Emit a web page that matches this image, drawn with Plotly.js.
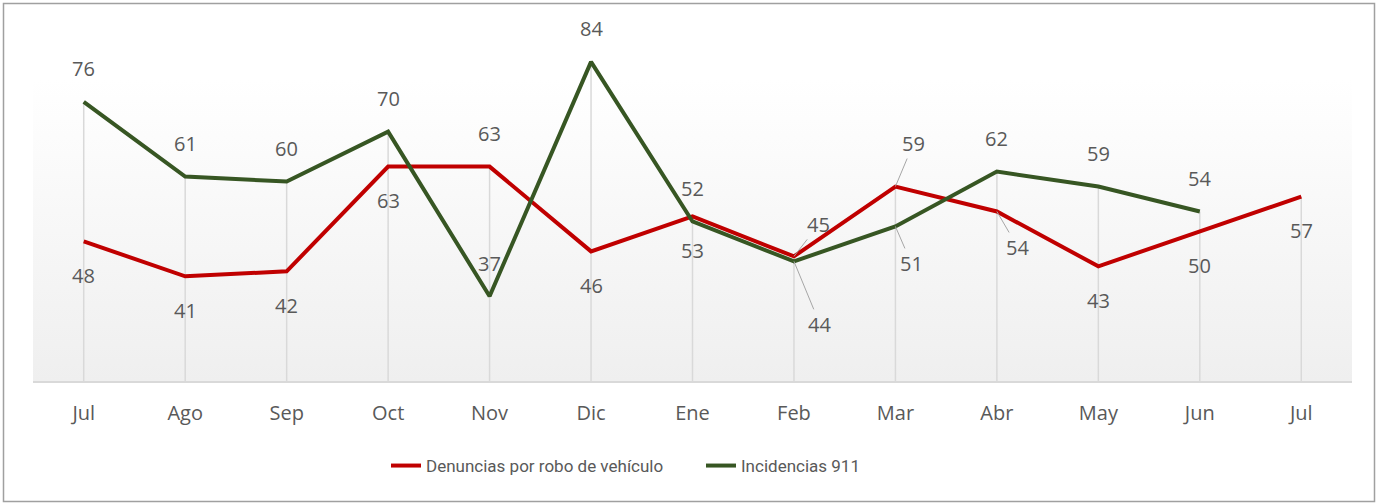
<!DOCTYPE html>
<html>
<head>
<meta charset="utf-8">
<script src="https://cdn.plot.ly/plotly-3.0.1.min.js"></script>
<style>html,body{margin:0;padding:0;background:#fff;}#chart{width:1378px;height:504px;}</style>
</head>
<body>
<div id="chart"></div>
<script>
// ---- data ----
const months = ["Jul","Ago","Sep","Oct","Nov","Dic","Ene","Feb","Mar","Abr","May","Jun","Jul"];
const denuncias = [48, 41, 42, 63, 63, 46, 53, 45, 59, 54, 43, 50, 57];
const incidencias = [76, 61, 60, 70, 37, 84, 52, 44, 51, 62, 59, 54, null];
const seriesNames = ["Denuncias por robo de vehículo", "Incidencias 911"];

// ---- style ----
const RED = "#c00000", GREEN = "#375623", TXT = "#595959";
const yMin = 20, yMax = 90;
const idx = months.map((m, i) => i);

// label placement: default offsets (px) per series; some points use leader lines
const redDefault = months.map(() => ({dy: 34}));      // below
const greenDefault = months.map(() => ({dy: -33}));   // above
redDefault[4] = {dy: -33};
const redLeader = {7: {ax: 25, ay: -32}, 8: {ax: 18, ay: -43}, 9: {ax: 21, ay: 36}};
const greenLeader = {7: {ax: 26, ay: 63}, 8: {ax: 16, ay: 37}};

// drop lines from highest point to axis
const dropX = [], dropY = [];
idx.forEach(i => {
  const vals = [denuncias[i], incidencias[i]].filter(v => v !== null);
  dropX.push(i, i, null);
  dropY.push(Math.max(...vals), yMin, null);
});

const gradTop = 80.4; // top of shaded plot region
const traces = [
  {x: [-0.5, 12.5, 12.5, -0.5, -0.5], y: [gradTop, gradTop, yMin, yMin, gradTop],
   mode: "lines", fill: "toself", line: {width: 0, color: "rgba(0,0,0,0)"},
   fillgradient: {type: "vertical", colorscale: [[0, "#efefef"], [1, "#ffffff"]]},
   hoverinfo: "skip", showlegend: false},
  {x: dropX, y: dropY, mode: "lines", line: {color: "#d9d9d9", width: 1.5},
   hoverinfo: "skip", showlegend: false},
  {x: idx, y: denuncias, name: seriesNames[0], mode: "lines",
   line: {color: RED, width: 4}, hoverinfo: "skip"},
  {x: idx, y: incidencias, name: seriesNames[1], mode: "lines",
   line: {color: GREEN, width: 4}, hoverinfo: "skip"}
];

const annFont = {family: "Open Sans, sans-serif", size: 20, color: TXT};
const annotations = [];
function addLabels(vals, defaults, leaders) {
  vals.forEach((v, i) => {
    if (v === null) return;
    if (leaders[i]) {
      annotations.push({x: i, y: v, text: String(v), showarrow: true, arrowhead: 0,
        arrowwidth: 1, arrowcolor: "#a6a6a6", ax: leaders[i].ax, ay: leaders[i].ay,
        standoff: 0, font: annFont});
    } else {
      annotations.push({x: i, y: v, text: String(v), showarrow: false,
        yshift: -defaults[i].dy, font: annFont});
    }
  });
}
addLabels(denuncias, redDefault, redLeader);
addLabels(incidencias, greenDefault, greenLeader);

const W = 1378, H = 504, mL = 33, mR = 26, mT = 32, mB = 123;
const pw = W - mL - mR, ph = H - mT - mB;
const px2x = p => (p - mL) / pw, px2y = p => (H - mB - p) / ph;

const layout = {
  width: W, height: H,
  margin: {l: mL, r: mR, t: mT, b: mB, pad: 0},
  paper_bgcolor: "#ffffff", plot_bgcolor: "rgba(0,0,0,0)",
  xaxis: {range: [-0.5, 12.5], tickvals: idx, ticktext: months, showgrid: false,
    zeroline: false, showline: true, linecolor: "#d9d9d9", linewidth: 1.5,
    ticks: "", ticklabelstandoff: 13,
    tickfont: {family: "Open Sans, sans-serif", size: 20, color: TXT}},
  yaxis: {range: [yMin, yMax], visible: false, showgrid: false, zeroline: false},
  showlegend: true,
  legend: {orientation: "h", x: px2x(386), xanchor: "left", y: px2y(466), yanchor: "middle",
    font: {family: "Roboto, sans-serif", size: 17, color: TXT},
    bgcolor: "rgba(0,0,0,0)", itemwidth: 30, entrywidth: 270, entrywidthmode: "pixels"},
  annotations: annotations,
  shapes: [{type: "rect", xref: "paper", yref: "paper",
    x0: px2x(3.5), x1: px2x(1374.5), y0: px2y(501.5), y1: px2y(3.5),
    line: {color: "#a0a0a0", width: 1.5}, fillcolor: "rgba(0,0,0,0)", layer: "below"}],
  hovermode: false
};

Plotly.newPlot("chart", traces, layout, {staticPlot: true, displayModeBar: false});
</script>
</body>
</html>
